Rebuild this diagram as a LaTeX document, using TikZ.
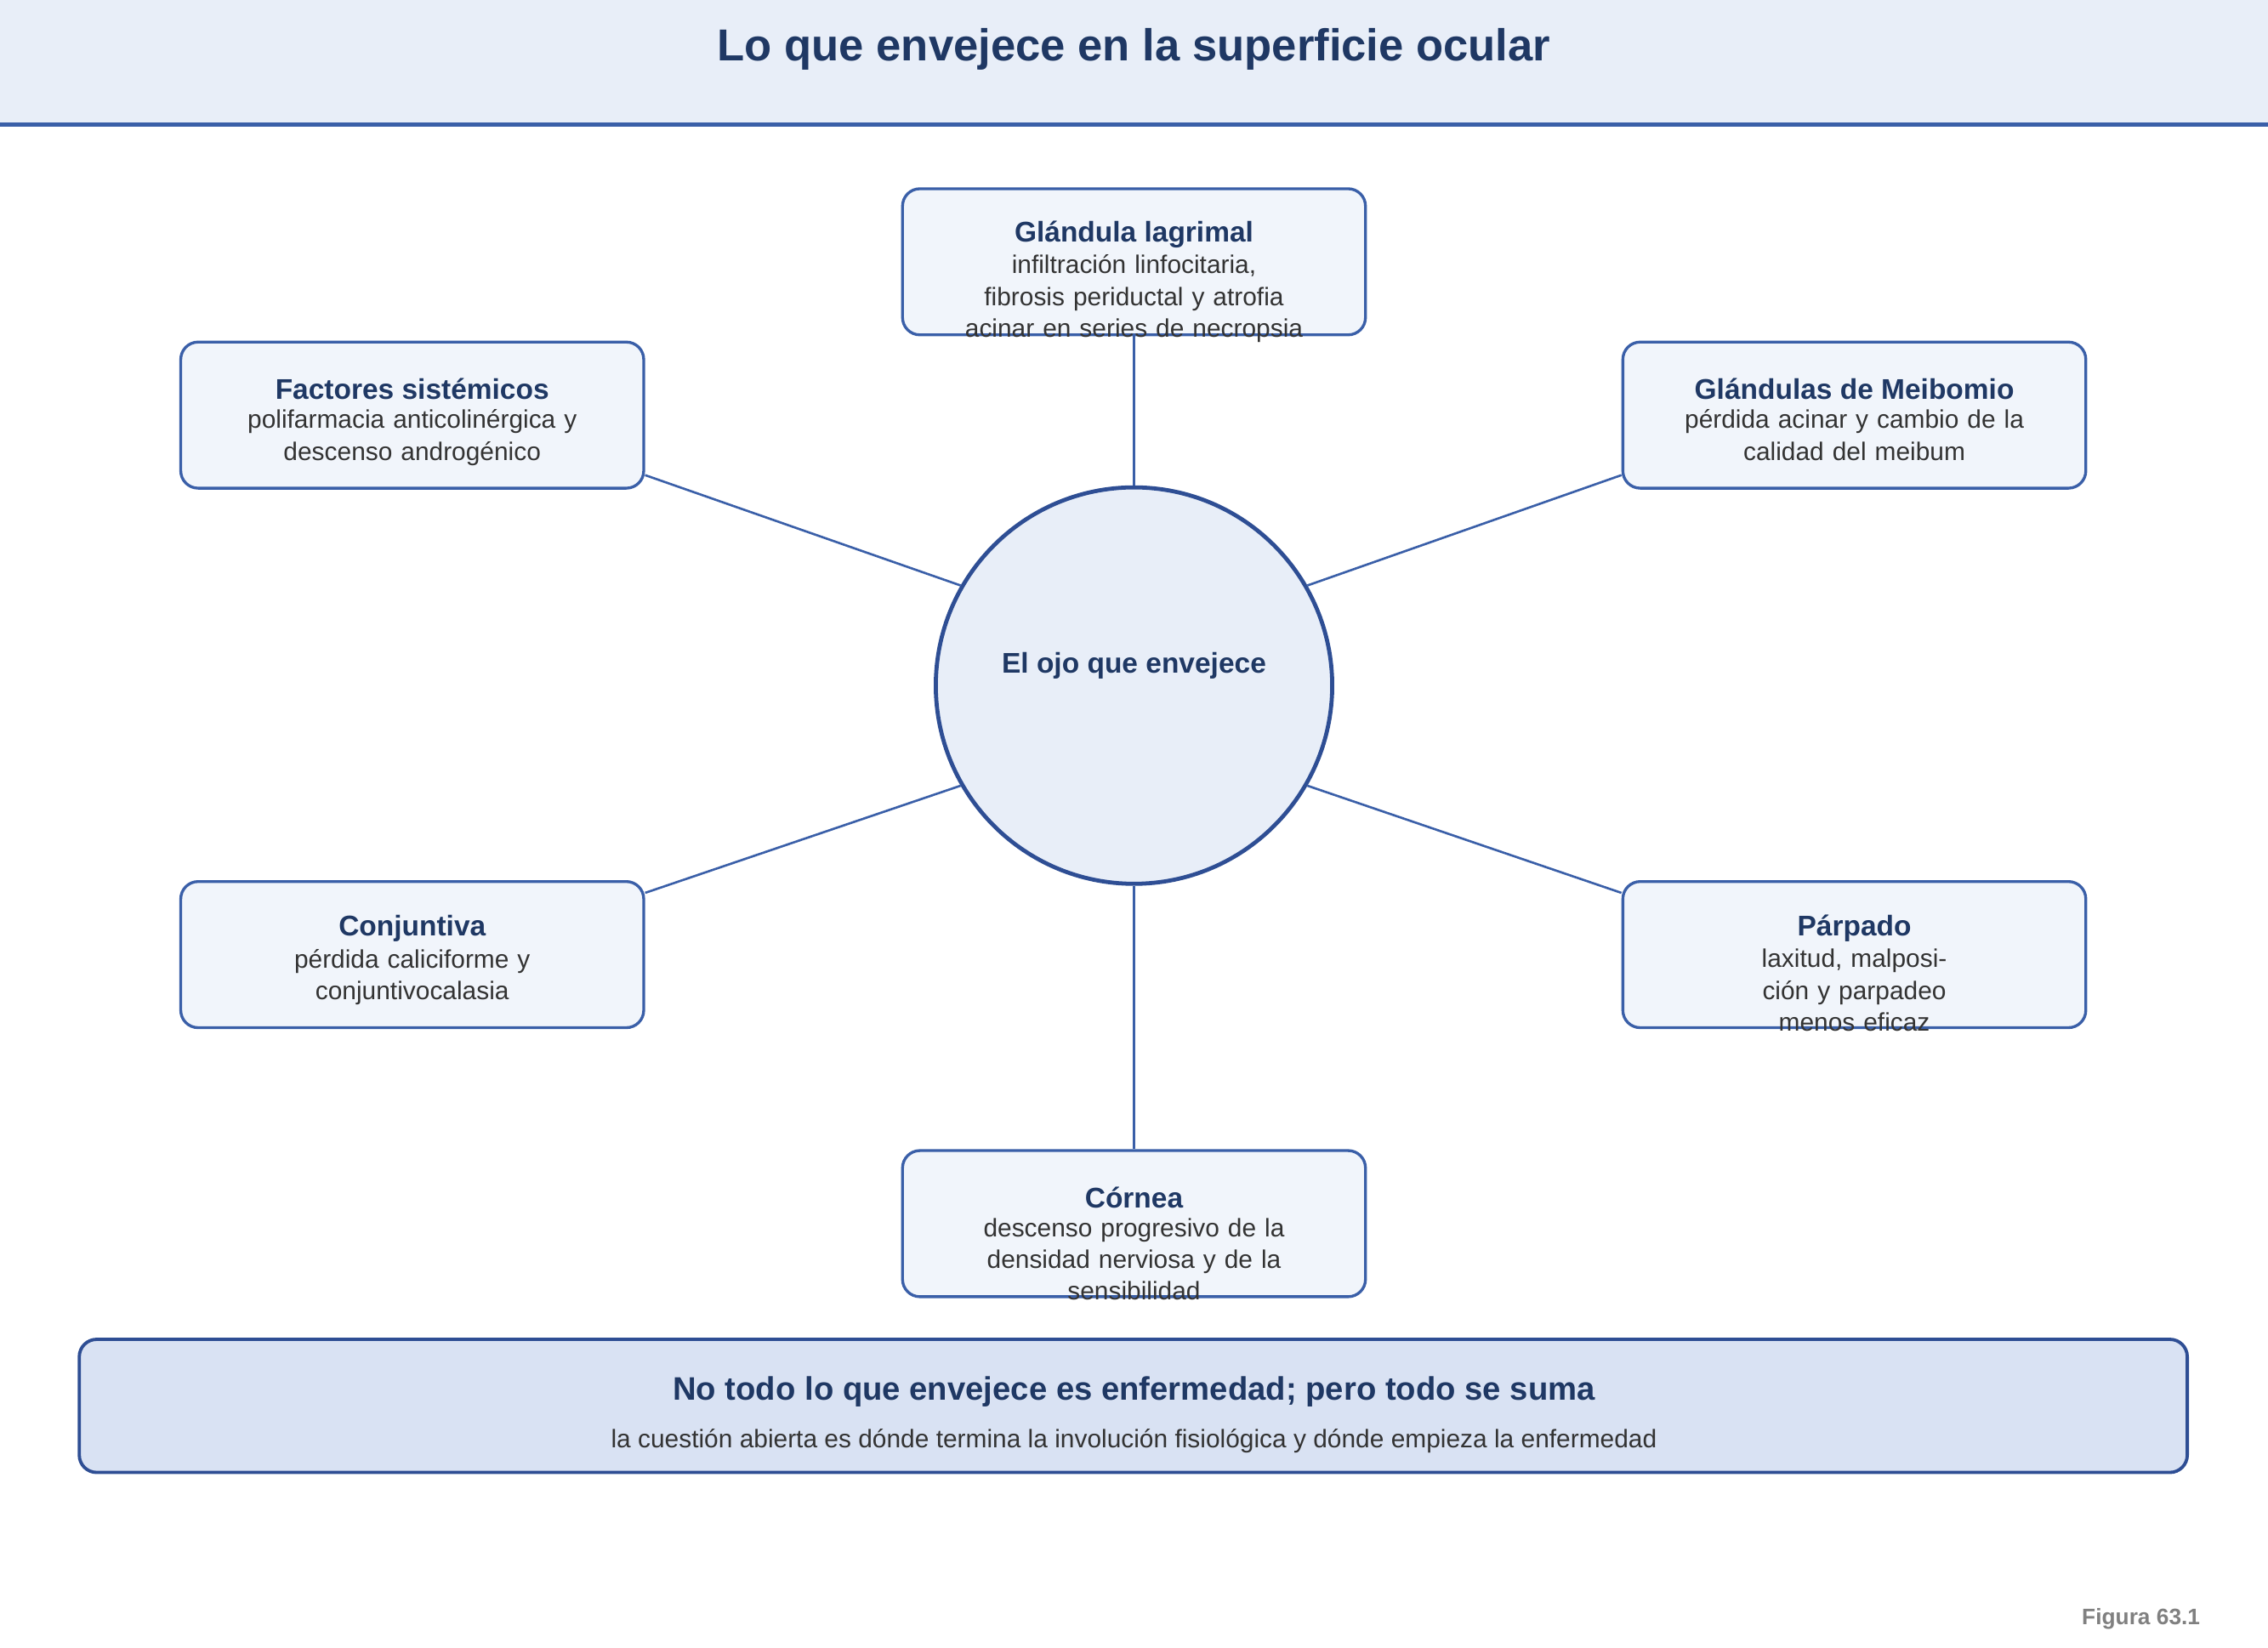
\documentclass[tikz,border=0pt]{standalone}
\usepackage{fontspec}
\setmainfont{Liberation Sans}
\usetikzlibrary{positioning}
\definecolor{navy}{HTML}{1F3864}
\definecolor{edgeblue}{HTML}{3A5FA8}
\definecolor{darkblue}{HTML}{2E4E94}
\definecolor{headfill}{HTML}{E8EEF8}
\definecolor{boxfill}{HTML}{F1F5FB}
\definecolor{notefill}{HTML}{D9E2F3}
\definecolor{bodytext}{HTML}{333333}
\begin{document}
\begin{tikzpicture}
[x=0.025cm, y=-0.025cm,
% STYLES
part/.style={rectangle, rounded corners=0.3cm, draw=edgeblue, line width=1.4pt, fill=boxfill, minimum width=8cm, minimum height=2.525cm},
parttitle/.style={font=\fontsize{14}{16}\selectfont\bfseries, text=navy},
partdesc/.style={font=\fontsize{12.5}{15.6}\selectfont, text=bodytext, text width=6cm, align=center, anchor=north, inner sep=0pt},
spoke/.style={draw=edgeblue, line width=1.1pt}]

\useasboundingbox (0,0) rectangle (1568,1139);

% header
\fill[headfill] (0,0) rectangle (1568,86);
\draw[edgeblue, line width=2.2pt] (0,86) -- (1568,86);
\node[font=\fontsize{22}{26}\selectfont\bfseries, text=navy] (title) at (784,34) {Lo que envejece en la superficie ocular};

% center
\node[circle, draw=darkblue, line width=2pt, fill=headfill, minimum size=6.85cm] (eye) at (784,474) {};
\node[parttitle] (eye-label) at (784,460) {El ojo que envejece};

% parts
\node[part] (glandula) at (784,181) {};
\node[part] (factores) at (285,287) {};
\node[part] (meibomio) at (1282,287) {};
\node[part] (conjuntiva) at (285,660) {};
\node[part] (parpado) at (1282,660) {};
\node[part] (cornea) at (784,846) {};

% spokes
\path[spoke]
(eye.north) edge (glandula.south)
(eye.150) edge ([yshift=0.25cm]factores.south east)
(eye.30) edge ([yshift=0.25cm]meibomio.south west)
(eye.210) edge ([yshift=-0.22cm]conjuntiva.north east)
(eye.-30) edge ([yshift=-0.22cm]parpado.north west)
(eye.south) edge (cornea.north);

% texts
\node[parttitle] at (784,162) {Glándula lagrimal};
\node[partdesc] at (784,176) {infiltración linfocitaria,\\fibrosis periductal y atrofia\\acinar en series de necropsia};
\node[parttitle] at (285,269) {Factores sistémicos};
\node[partdesc] at (285,283) {polifarmacia anticolinérgica y\\descenso androgénico};
\node[parttitle] at (1282,269) {Glándulas de Meibomio};
\node[partdesc] at (1282,283) {pérdida acinar y cambio de la\\calidad del meibum};
\node[parttitle] at (285,642) {Conjuntiva};
\node[partdesc] at (285,656) {pérdida caliciforme y\\conjuntivocalasia};
\node[parttitle] at (1282,642) {Párpado};
\node[partdesc] at (1282,656) {laxitud, malposición y parpadeo\\menos eficaz};
\node[parttitle] at (784,828) {Córnea};
\node[partdesc] at (784,842) {descenso progresivo de la\\densidad nerviosa y de la\\sensibilidad};

% note
\node[rectangle, rounded corners=0.3cm, draw=darkblue, line width=1.6pt, fill=notefill, minimum width=36.425cm, minimum height=2.3cm] (note) at (783.5,972) {};
\node[font=\fontsize{16}{19}\selectfont\bfseries, text=navy] (note-title) at (784,962) {No todo lo que envejece es enfermedad; pero todo se suma};
\node[font=\fontsize{12.5}{15}\selectfont, text=bodytext] (note-desc) at (784,996) {la cuestión abierta es dónde termina la involución fisiológica y dónde empieza la enfermedad};

\node[font=\fontsize{11}{13}\selectfont\bfseries, text=gray, anchor=east] (fig) at (1526,1119) {Figura 63.1};
\end{tikzpicture}
\end{document}
